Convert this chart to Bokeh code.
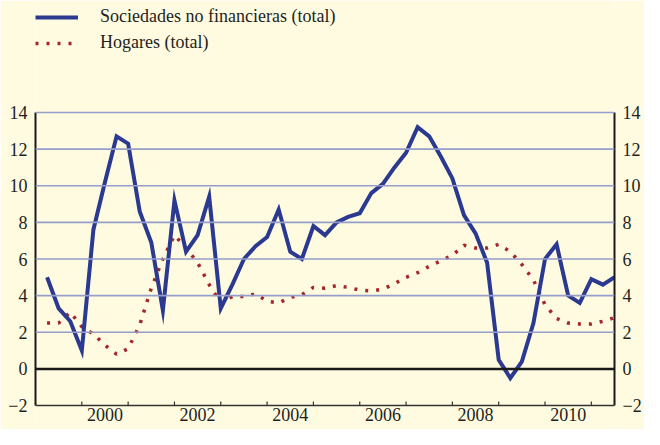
from bokeh.plotting import figure
from bokeh.models import (Range1d, LinearAxis, FixedTicker, Span, Legend, LegendItem,
                          ColumnDataSource)
from bokeh.core.properties import value
from bokeh.embed import file_html
from bokeh.resources import INLINE

# ---- data (quarterly, 1999 T1 .. 2011 T2) ----
quarters = [f"{y}T{q}" for y in range(1999, 2012) for q in range(1, 5)][:50]

sociedades = [5.0, 3.3, 2.6, 1.0, 7.6, 10.2, 12.7, 12.3, 8.6, 6.9,
              3.2, 9.2, 6.4, 7.3, 9.4, 3.3, 4.6, 6.0, 6.7, 7.2,
              8.7, 6.4, 6.0, 7.8, 7.3, 8.0, 8.3, 8.5, 9.6, 10.1,
              11.0, 11.8, 13.2, 12.7, 11.6, 10.4, 8.4, 7.4, 5.8, 0.5,
              -0.5, 0.4, 2.5, 6.0, 6.8, 4.0, 3.6, 4.9, 4.6, 5.0]

hogares = [2.5, 2.5, 3.1, 2.3, 1.9, 1.3, 0.8, 1.1, 2.4, 4.4,
           6.0, 7.3, 6.6, 5.8, 4.6, 3.6, 3.95, 3.95, 4.1, 3.7,
           3.6, 3.9, 4.05, 4.45, 4.4, 4.55, 4.45, 4.3, 4.25, 4.35,
           4.65, 5.0, 5.25, 5.6, 5.9, 6.2, 6.75, 6.6, 6.6, 6.8,
           6.4, 5.7, 4.85, 3.5, 2.75, 2.5, 2.45, 2.45, 2.6, 2.8]

label_soc = "Sociedades no financieras (total)"
label_hog = "Hogares (total)"
y_ticks = [-2, 0, 2, 4, 6, 8, 10, 12, 14]
year_bounds = list(range(1999, 2012))
year_labels = [2000, 2002, 2004, 2006, 2008, 2010]

x = [int(q[:4]) + int(q[-1]) * 0.25 for q in quarters]
src = ColumnDataSource(dict(x=x, soc=sociedades, hog=hogares))
lab_src = ColumnDataSource(dict(x=[y + 0.5 for y in year_labels],
                                y=[y_ticks[0]] * len(year_labels),
                                t=[str(y) for y in year_labels]))
tick_src = ColumnDataSource(dict(x=year_bounds, y=[y_ticks[0]] * len(year_bounds)))

BG = "#FFFBE1"
FONT = "Liberation Serif"
TXT = "#231F20"
FS = "18px"

# ---- layout (pixels inside the figure) ----
W, H = 644, 429
TOP_PX, BOT_PX = 112, 405          # where 14 and -2 sit
ymin, ymax = y_ticks[0], y_ticks[-1]
ppu = (BOT_PX - TOP_PX) / (ymax - ymin)
y_range = Range1d(ymin - (H - BOT_PX) / ppu, ymax + TOP_PX / ppu)

p = figure(width=W, height=H, output_backend="svg", toolbar_location=None,
           x_range=Range1d(1999, 2011.5), y_range=y_range,
           background_fill_color=BG, border_fill_color=BG,
           min_border_left=35, min_border_right=29, min_border_top=0,
           min_border_bottom=0, x_axis_location=None, y_axis_location=None)
p.outline_line_color = None
p.xgrid.visible = False
p.ygrid.visible = False

for v in y_ticks[2:]:
    p.add_layout(Span(location=v, dimension="width", line_color="#959DCB", line_width=1.6))
p.add_layout(Span(location=0, dimension="width", line_color="#1A1A1A", line_width=2.5))
p.add_layout(Span(location=ymin, dimension="width", line_color="#333333", line_width=1.5))

def yaxis():
    ax = LinearAxis(ticker=FixedTicker(ticks=y_ticks), bounds=(ymin, ymax))
    ax.axis_line_color = "#1A1A1A"
    ax.axis_line_width = 2
    ax.major_tick_in = 0
    ax.major_tick_out = 0
    ax.minor_tick_in = 0
    ax.minor_tick_out = 0
    ax.major_label_text_font = FONT
    ax.major_label_text_font_size = FS
    ax.major_label_text_color = TXT
    ax.major_label_standoff = 8
    return ax

p.add_layout(yaxis(), "left")
p.add_layout(yaxis(), "right")

# bottom ticks (pointing up) and year labels
p.ray(x="x", y="y", source=tick_src, length=4, length_units="screen", angle=90,
      angle_units="deg", line_color="#333333", line_width=1.2)
p.text(x="x", y="y", text="t", source=lab_src, text_font=value(FONT),
       text_font_size=FS, text_color=TXT, text_align="center",
       text_baseline="top", y_offset=2)

# series
r_hog = p.line("x", "hog", source=src, line_color="#A3262A", line_width=3.5,
               line_dash="3 8", line_cap="butt")
r_soc = p.line("x", "soc", source=src, line_color="#2B3990", line_width=4,
               line_join="miter")

legend = Legend(items=[LegendItem(label=label_soc, renderers=[r_soc]),
                       LegendItem(label=label_hog, renderers=[r_hog])],
                location=(0, H - 53))
legend.background_fill_alpha = 0
legend.border_line_alpha = 0
legend.padding = 0
legend.margin = 0
legend.spacing = 5
legend.glyph_width = 43
legend.glyph_height = 20
legend.label_height = 20
legend.label_standoff = 22
legend.label_text_font = FONT
legend.label_text_font_size = FS
legend.label_text_color = TXT
legend.label_text_baseline = "middle"
p.add_layout(legend, "center")

open("out.html", "w").write(file_html(p, INLINE))
